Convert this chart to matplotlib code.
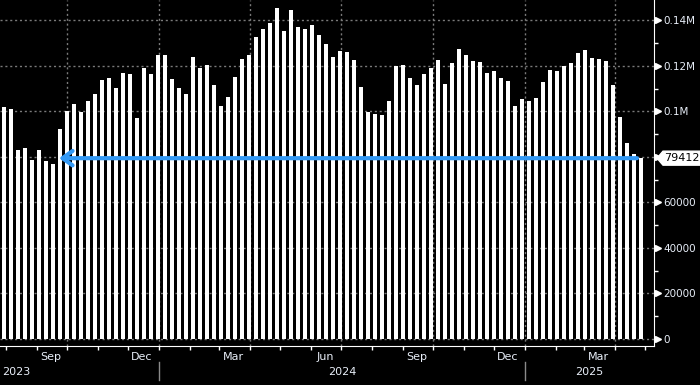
import pandas as pd
import matplotlib.pyplot as plt
import matplotlib.dates as mdates
import matplotlib.transforms as mtransforms
from matplotlib.patches import Polygon
from matplotlib.ticker import FuncFormatter, MultipleLocator

# ---------------- Data ----------------
first_week = "2023-07-30"
weekly_values = [
    101900, 101000, 82900, 83800, 78500, 82900, 78000, 76700, 92200, 100100,
    103200, 99700, 104500, 107600, 113800, 114700, 110200, 116900, 116500, 97000,
    119100, 116500, 124800, 124800, 114200, 110200, 107600, 123900, 119100, 120400,
    111600, 102300, 106300, 115100, 123100, 124800, 132800, 136300, 139000, 145200,
    135500, 144700, 137200, 136300, 137700, 133700, 129700, 123900, 126600, 126200,
    122600, 110600, 99700, 98800, 98400, 104500, 120000, 120400, 114700, 111600,
    116500, 119100, 122600, 112000, 121300, 127500, 124800, 122200, 121700, 116900,
    117800, 114700, 113400, 102300, 105400, 104500, 105900, 112900, 118200, 117800,
    120000, 121300, 125700, 127100, 123500, 123100, 122200, 111600, 97500, 86000,
    81100, 79412,
]
last_value = 79412
last_label = "79412.00"
hidden_tick = 80000  # covered by the last value tag
line_start = "2023-09-23"
line_end = "2025-04-23"
month_labels = ["2023-09-15", "2023-12-15", "2024-03-15", "2024-06-15",
                "2024-09-15", "2024-12-15", "2025-03-15"]
years = ["2023", "2024", "2025"]

dates = pd.date_range(first_week, periods=len(weekly_values), freq="7D")

# ---------------- Style ----------------
fg = "#e8eef8"
grid_col = "#7a7a7a"
blue = "#3399f5"
plt.rcParams["font.family"] = ["DejaVu Sans"]
plt.rcParams["font.size"] = 8

fig = plt.figure(figsize=(7.0, 3.85), dpi=100, facecolor="black")
ax = fig.add_axes([0.0, 39 / 385, 654 / 700, 346 / 385], facecolor="black")

x_left = pd.Timestamp("2023-07-26")
x_right = pd.Timestamp("2025-05-10")
ax.set_xlim(x_left, x_right)
ax.set_ylim(-3100, 148900)

# ---------------- Bars ----------------
ax.bar(dates, weekly_values, width=4.2, color="white", zorder=2)

# grid
ax.yaxis.set_major_locator(MultipleLocator(20000))
ax.yaxis.set_minor_locator(MultipleLocator(10000))
ax.grid(axis="y", which="major", color=grid_col, linestyle=(0, (1.5, 2)), lw=1, zorder=0)
for q in pd.date_range("2023-07-01", "2025-04-01", freq="QS"):
    if x_left < q < x_right:
        ax.axvline(q, color=grid_col, linestyle=(0, (1.5, 2)), lw=1, zorder=0)

# last value line with arrow
ax.annotate("", xy=(pd.Timestamp(line_start), last_value),
            xytext=(pd.Timestamp(line_end), last_value),
            arrowprops=dict(arrowstyle="->,head_length=0.9,head_width=0.65",
                            color=blue, lw=3, shrinkA=0, shrinkB=0),
            zorder=4)

# ---------------- Axes ----------------
for s in ["left", "top"]:
    ax.spines[s].set_visible(False)
ax.spines["right"].set_color("white")
ax.spines["bottom"].set_color("white")


def y_fmt(v, pos):
    if v == hidden_tick:
        return ""
    if v >= 100000:
        return f"{v / 1e6:g}M"
    return f"{int(v)}"


ax.yaxis.tick_right()
ax.yaxis.set_major_formatter(FuncFormatter(y_fmt))
ax.tick_params(axis="y", which="major", length=0, pad=7, colors=fg, labelsize=7.5)
ax.tick_params(axis="y", which="minor", length=3, width=1, color="white")

# triangle markers for major y ticks
tri_tr = mtransforms.offset_copy(ax.get_yaxis_transform(), fig=fig, x=4, y=0, units="dots")
yt = [t for t in ax.get_yticks() if 0 <= t <= 140000]
ax.plot([1.0] * len(yt), yt, linestyle="none", marker=">", markersize=5,
        color="white", transform=tri_tr, clip_on=False)

ax.xaxis.set_major_locator(mdates.MonthLocator())
ax.xaxis.set_major_formatter(plt.NullFormatter())
ax.tick_params(axis="x", which="major", length=3, width=1, color="white")
ax.set_xticks(pd.to_datetime(month_labels), minor=True)
ax.xaxis.set_minor_formatter(mdates.DateFormatter("%b"))
ax.tick_params(axis="x", which="minor", length=0, pad=4, labelcolor=fg, labelsize=8)

# year row
trans = mtransforms.blended_transform_factory(ax.transData, ax.transAxes)
y_pos = -(372 - 346) / 346
jan24 = pd.Timestamp("2024-01-01")
jan25 = pd.Timestamp("2025-01-01")
ax.text(x_left + pd.Timedelta(days=2), y_pos, years[0], transform=trans,
        color=fg, ha="left", va="center", fontsize=8)
ax.text(jan24 + (jan25 - jan24) / 2, y_pos, years[1], transform=trans,
        color=fg, ha="center", va="center", fontsize=8)
ax.text(jan25 + (x_right - jan25) / 2, y_pos, years[2], transform=trans,
        color=fg, ha="center", va="center", fontsize=8)
for d in [jan24, jan25]:
    ax.plot([d, d], [-(362 - 346) / 346, -(380 - 346) / 346], transform=trans,
            color="#8a8a8a", lw=1, clip_on=False)

# last value tag on the right
fig.canvas.draw()
px, py = ax.transData.transform((mdates.date2num(x_right), last_value))
tag = [(px + 3, py), (px + 9, py + 7), (px + 60, py + 7), (px + 60, py - 7), (px + 9, py - 7)]
fig.patches.append(Polygon(tag, closed=True, facecolor="white", edgecolor="white",
                           transform=None, figure=fig, zorder=5))
fig.text((px + 10) / 700, py / 385, last_label, color="black", fontsize=8,
         ha="left", va="center", zorder=6)

plt.savefig("out.png", dpi=100, facecolor="black")
